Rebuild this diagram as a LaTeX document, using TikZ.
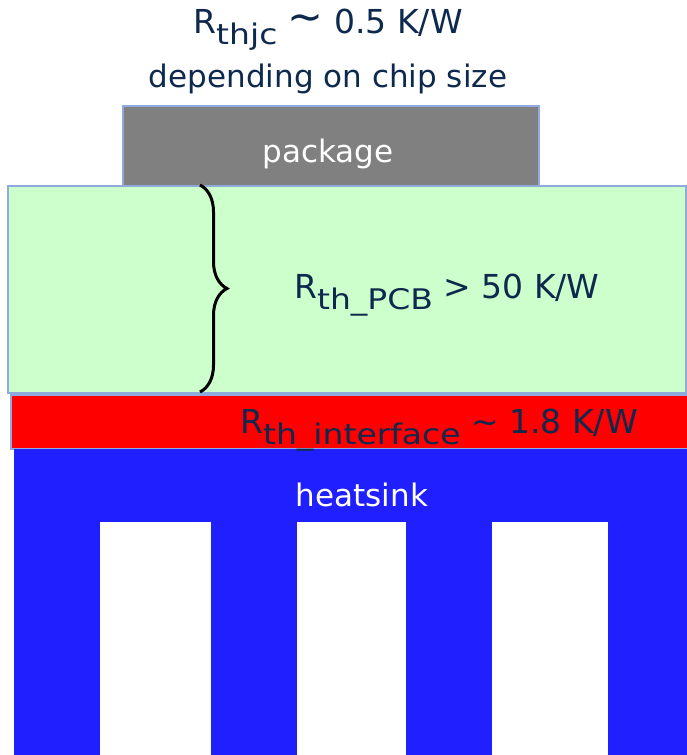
\documentclass[tikz,border=0pt]{standalone}
\usepackage{fontspec}
\usepackage{graphicx}
\setmainfont{DejaVu Sans}
\usetikzlibrary{decorations.pathreplacing}

\definecolor{navytext}{RGB}{14,41,78}
\definecolor{pcbgreen}{RGB}{204,255,204}
\definecolor{chipgray}{RGB}{128,128,128}
\definecolor{sinkblue}{RGB}{31,31,255}
\definecolor{edgeblue}{RGB}{143,170,220}

% lowered subscript text, full width but a bit shorter
\newcommand{\lowsub}[1]{\raisebox{-0.36em}{\scalebox{1}[0.86]{#1}}}
\newcommand{\bigsim}{\raisebox{0.05em}{\scalebox{1.3}{∼}}}

\tikzset{
  layer/.style={draw=edgeblue, line width=1.5pt, inner sep=0pt, anchor=north west},
  label text/.style={inner sep=0pt, anchor=base, text=navytext, font=\fontsize{31}{37}\selectfont},
  big text/.style={label text, font=\fontsize{33}{40}\selectfont},
  white text/.style={label text, text=white},
  curly/.style={draw=black, line width=3pt, decorate, decoration={brace, amplitude=27pt}}
}

\begin{document}
\begin{tikzpicture}[x=1pt, y=-1pt]
  \useasboundingbox (0,0) rectangle (687,755);

  % layers
  \node[layer, fill=chipgray, minimum width=416pt, minimum height=80pt] (package) at (122,105) {};
  \node[layer, fill=pcbgreen, minimum width=678pt, minimum height=207pt] (pcb) at (7,185) {};
  \node[layer, fill=red, minimum width=679pt, minimum height=54pt] (interface) at (10,394) {};
  \node[layer, draw=none, fill=sinkblue, minimum width=674pt, minimum height=307pt] (heatsink) at (13,448) {};

  % fins
  \foreach \x/\w [count=\i] in {99/111, 296/109, 491/116}
    \node[layer, draw=none, fill=white, minimum width=\w pt, minimum height=234pt] (slot\i) at (\x,521) {};

  % texts
  \node[big text] (rthjc) at (328,33) {R\lowsub{thjc} \bigsim\ 0.5 K/W};
  \node[label text] (chipsize) at (328,87) {depending on chip size};
  \node[white text] (packagetext) at (328,162) {package};
  \node[big text, anchor=base west] (rthpcb) at (294,298) {R\lowsub{th\_PCB} > 50 K/W};
  \node[big text, anchor=base west] (rthif) at (240,433) {R\lowsub{th\_interface} \textasciitilde\ 1.8 K/W};
  \node[white text] (sinktext) at (362,506) {heatsink};

  % brace over the pcb
  \coordinate (bracetop) at (200,185);
  \coordinate (bracebot) at (200,392);
  \draw[curly] (bracetop) -- (bracebot);
\end{tikzpicture}
\end{document}
